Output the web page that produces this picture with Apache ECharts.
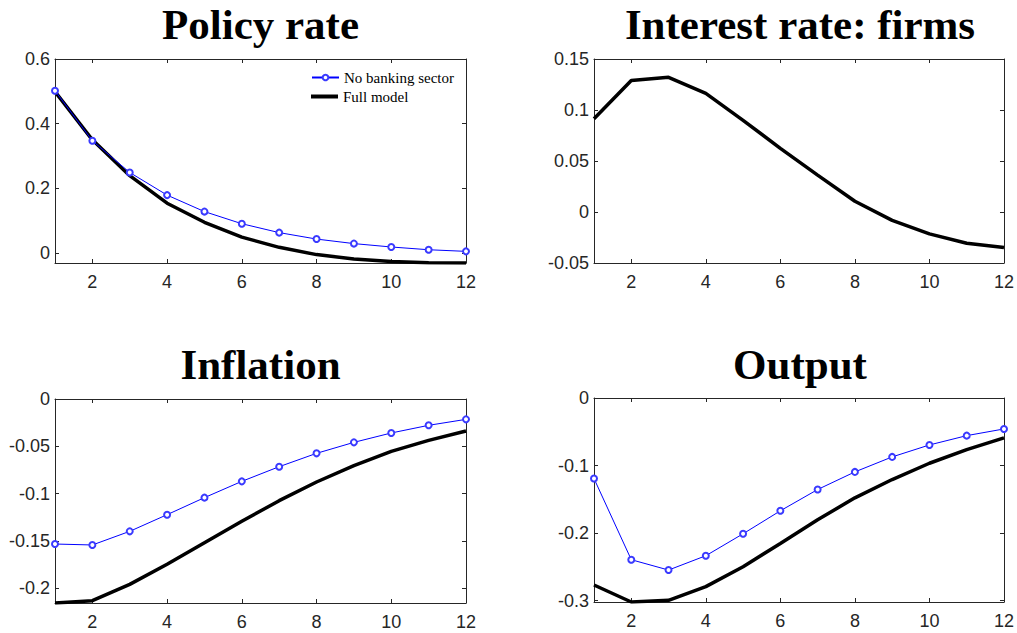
<!DOCTYPE html>
<html>
<head>
<meta charset="utf-8">
<script src="https://cdn.jsdelivr.net/npm/echarts@6/dist/echarts.min.js"></script>
<style>
html,body{margin:0;padding:0;background:#fff}
#main{width:1017px;height:633px}
</style>
</head>
<body>
<div id="main"></div>
<script>
// horizon (quarters)
var periods = [1, 2, 3, 4, 5, 6, 7, 8, 9, 10, 11, 12];

// responses
var policyNoBank = [0.502, 0.347, 0.249, 0.179, 0.128, 0.0905, 0.063, 0.043, 0.029, 0.0185, 0.010, 0.005];
var policyFull = [0.499, 0.350, 0.239, 0.154, 0.095, 0.049, 0.0175, -0.005, -0.0185, -0.026, -0.030, -0.031];
var firmRateFull = [0.0915, 0.129, 0.132, 0.1163, 0.0899, 0.0624, 0.0362, 0.0105, -0.0082, -0.0214, -0.0306, -0.0349];
var inflNoBank = [-0.1532, -0.1542, -0.1398, -0.1222, -0.1042, -0.0870, -0.0715, -0.0574, -0.0458, -0.0359, -0.0278, -0.0215];
var inflFull = [-0.2155, -0.213, -0.1958, -0.1746, -0.1518, -0.1292, -0.1074, -0.0877, -0.0704, -0.0553, -0.0437, -0.0338];
var outputNoBank = [-0.1192, -0.2394, -0.2547, -0.2335, -0.201, -0.167, -0.1355, -0.1094, -0.0872, -0.0695, -0.0557, -0.0458];
var outputFull = [-0.2768, -0.302, -0.2995, -0.2793, -0.2498, -0.2153, -0.1803, -0.1478, -0.1207, -0.0966, -0.0764, -0.0591];

var panelTitles = ['Policy rate', 'Interest rate: firms', 'Inflation', 'Output'];
// y ranges: [min, max, step]
var yRanges = [[-0.031, 0.6, 0.2], [-0.05, 0.15, 0.05], [-0.2155, 0, 0.05], [-0.302, 0, 0.1]];

var NOBANK = 'No banking sector';
var FULL = 'Full model';

var grids = [
    {left: 55, top: 59, width: 411, height: 204},
    {left: 594, top: 59, width: 412, height: 204},
    {left: 55, top: 399, width: 411, height: 204},
    {left: 594, top: 398, width: 412, height: 204}
];
var titleY = [24, 24, 364, 364];

var axisCol = '#262626';
var evenOnly = function (idx, val) { return (+val) % 2 === 0; };

var xAxes = [], yAxes = [], series = [], graphics = [];

grids.forEach(function (g, i) {
    // bottom + mirrored top x axis
    [false, true].forEach(function (mirror) {
        xAxes.push({
            type: 'category',
            gridIndex: i,
            position: mirror ? 'top' : 'bottom',
            data: periods,
            boundaryGap: false,
            axisLine: {onZero: false, lineStyle: {color: axisCol, width: 1}},
            axisTick: {inside: true, length: 4, interval: evenOnly, lineStyle: {color: axisCol}},
            axisLabel: {
                show: !mirror, interval: evenOnly, margin: 10,
                color: axisCol, fontFamily: 'Liberation Sans', fontSize: 18
            },
            splitLine: {show: false}
        });
    });
    var r = yRanges[i];
    [false, true].forEach(function (mirror) {
        yAxes.push({
            type: 'value',
            gridIndex: i,
            position: mirror ? 'right' : 'left',
            min: r[0], max: r[1],
            minInterval: r[2], maxInterval: r[2],
            splitNumber: 4,
            axisLine: {show: true, onZero: false, lineStyle: {color: axisCol, width: 1}},
            axisTick: {show: true, inside: true, length: 4, lineStyle: {color: axisCol}},
            axisLabel: {
                show: !mirror, margin: 5, showMinLabel: Math.abs(r[0] / r[2] - Math.round(r[0] / r[2])) < 1e-6,
                color: axisCol, fontFamily: 'Liberation Sans', fontSize: 18
            },
            splitLine: {show: false}
        });
    });
    graphics.push({
        type: 'text',
        x: g.left + g.width / 2,
        y: titleY[i],
        style: {
            text: panelTitles[i],
            font: 'bold 43px "Liberation Serif"',
            fill: '#000',
            textAlign: 'center',
            textVerticalAlign: 'middle'
        }
    });
});

function fullLine(i, data) {
    return {
        name: FULL, type: 'line', xAxisIndex: 2 * i, yAxisIndex: 2 * i,
        data: data, symbol: 'none', z: 2,
        lineStyle: {color: '#000', width: 3.5}, itemStyle: {color: '#000'}
    };
}
function noBankLine(i, data) {
    return {
        name: NOBANK, type: 'line', xAxisIndex: 2 * i, yAxisIndex: 2 * i,
        data: data, symbol: 'emptyCircle', symbolSize: 6, z: 3,
        lineStyle: {color: '#0000ff', width: 1},
        itemStyle: {color: '#3a3aff', borderColor: '#3a3aff', borderWidth: 0.8}
    };
}

series.push(fullLine(0, policyFull), noBankLine(0, policyNoBank));
series.push(fullLine(1, firmRateFull));
series.push(fullLine(2, inflFull), noBankLine(2, inflNoBank));
series.push(fullLine(3, outputFull), noBankLine(3, outputNoBank));

var legendText = {fontFamily: 'Liberation Serif', fontSize: 15, color: '#000'};

var chart = echarts.init(document.getElementById('main'), null, {renderer: 'svg'});
chart.setOption({
    animation: false,
    backgroundColor: '#fff',
    grid: grids,
    xAxis: xAxes,
    yAxis: yAxes,
    legend: [{
        data: [NOBANK],
        left: 311, top: 70,
        padding: 0,
        itemWidth: 27, itemHeight: 7,
        textStyle: legendText
    }, {
        data: [{name: FULL, icon: 'rect'}],
        left: 311, top: 89,
        padding: 0,
        itemWidth: 27, itemHeight: 4,
        itemStyle: {color: '#000'},
        textStyle: legendText
    }],
    graphic: graphics,
    series: series
});
</script>
</body>
</html>
